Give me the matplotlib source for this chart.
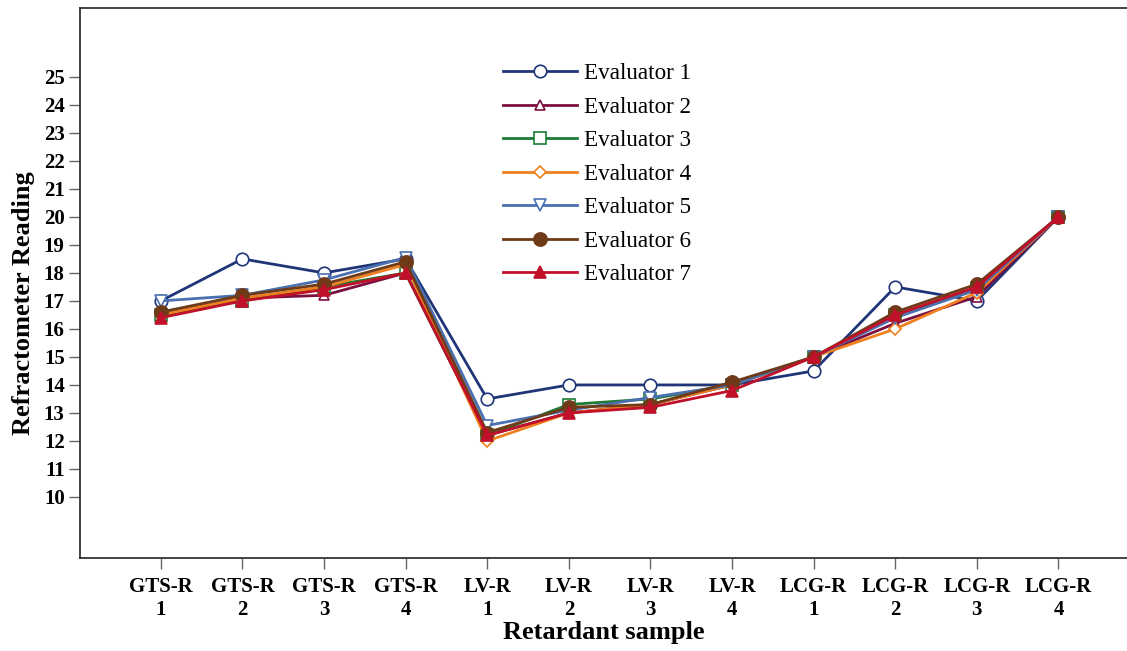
import matplotlib
matplotlib.use("Agg")
import matplotlib.pyplot as plt

categories = ["GTS-R\n1", "GTS-R\n2", "GTS-R\n3", "GTS-R\n4",
              "LV-R\n1", "LV-R\n2", "LV-R\n3", "LV-R\n4",
              "LCG-R\n1", "LCG-R\n2", "LCG-R\n3", "LCG-R\n4"]

evaluator_1 = [17.0, 18.5, 18.0, 18.5, 13.5, 14.0, 14.0, 14.0, 14.5, 17.5, 17.0, 20.0]
evaluator_2 = [16.5, 17.1, 17.2, 18.0, 12.2, 13.0, 13.3, 14.0, 15.0, 16.2, 17.15, 20.0]
evaluator_3 = [16.5, 17.0, 17.5, 18.0, 12.2, 13.3, 13.5, 14.0, 15.0, 16.5, 17.45, 20.0]
evaluator_4 = [16.5, 17.1, 17.5, 18.3, 12.0, 13.0, 13.3, 14.0, 15.0, 16.0, 17.3, 20.0]
evaluator_5 = [17.0, 17.2, 17.75, 18.55, 12.55, 13.1, 13.55, 14.0, 15.0, 16.4, 17.4, 20.0]
evaluator_6 = [16.6, 17.2, 17.6, 18.4, 12.3, 13.2, 13.3, 14.1, 15.0, 16.6, 17.6, 20.0]
evaluator_7 = [16.4, 17.0, 17.4, 18.0, 12.2, 13.0, 13.2, 13.8, 15.0, 16.5, 17.5, 20.0]

labels = ["Evaluator 1", "Evaluator 2", "Evaluator 3", "Evaluator 4",
          "Evaluator 5", "Evaluator 6", "Evaluator 7"]
series = [evaluator_1, evaluator_2, evaluator_3, evaluator_4,
          evaluator_5, evaluator_6, evaluator_7]
colors = ["#1f3578", "#7a1040", "#1e7a34", "#f07f1e", "#4a70b0", "#6e3a18", "#c0102a"]
markers = ["o", "^", "s", "D", "v", "o", "^"]
filled = [False, False, False, False, False, True, True]
msizes = [9, 7, 8, 6.5, 8, 9.5, 8]

fig = plt.figure(figsize=(11.27, 6.51), dpi=100)
ax = fig.add_axes([80/1127, 93/651, 1 - 80/1127, (558-8)/651])

x = list(range(len(categories)))
for vals, lab, c, m, f, ms in zip(series, labels, colors, markers, filled, msizes):
    ax.plot(x, vals, color=c, marker=m, markersize=ms, linewidth=2.0,
            markerfacecolor=c if f else "white", markeredgecolor=c,
            markeredgewidth=1.2, label=lab)

ax.set_xlim(-0.99, 11.84)
ax.set_ylim(7.82, 27.46)
ax.set_yticks(range(10, 26))
ax.set_xticks(x)
ax.set_xticklabels(categories)

serif = ["Liberation Serif", "DejaVu Serif"]
for lbl in ax.get_xticklabels() + ax.get_yticklabels():
    lbl.set_fontfamily(serif)
    lbl.set_fontweight("bold")
    lbl.set_fontsize(15)
for lbl in ax.get_xticklabels():
    lbl.set_linespacing(1.15)

ax.tick_params(axis="both", direction="out", length=8, width=1, color="#666666", pad=3)
ax.tick_params(axis="x", pad=6)
ax.spines["right"].set_visible(False)
for s in ["left", "bottom", "top"]:
    ax.spines[s].set_linewidth(1.2)
    ax.spines[s].set_color("#222222")

ax.set_xlabel("Retardant sample", fontfamily=serif, fontweight="bold", fontsize=19, labelpad=1)
ax.set_ylabel("Refractometer Reading", fontfamily=serif, fontweight="bold", fontsize=19)
ax.yaxis.set_label_coords(-0.043, 0.4636)

leg = ax.legend(loc="upper left", bbox_to_anchor=(482/1127, 1 - 42/651),
                bbox_transform=fig.transFigure, frameon=False,
                prop={"family": serif, "size": 16.7}, handlelength=3.2,
                labelspacing=0.53, handletextpad=0.3)

fig.savefig("out.png", dpi=100)
